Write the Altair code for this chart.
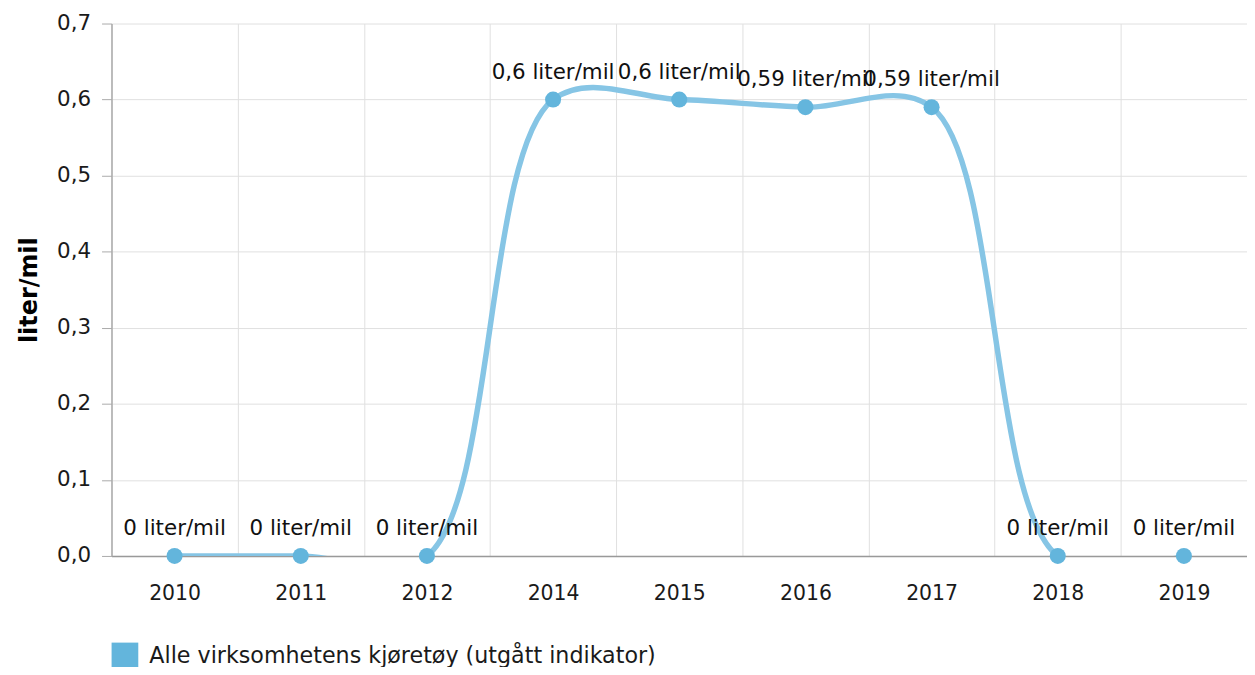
import altair as alt
import pandas as pd

years = ["2010", "2011", "2012", "2014", "2015", "2016", "2017", "2018", "2019"]
values = [0, 0, 0, 0.6, 0.6, 0.59, 0.59, 0, 0]
labels = ["0 liter/mil", "0 liter/mil", "0 liter/mil", "0,6 liter/mil", "0,6 liter/mil",
          "0,59 liter/mil", "0,59 liter/mil", "0 liter/mil", "0 liter/mil"]
series_name = "Alle virksomhetens kjøretøy (utgått indikator)"
y_ticks = [0, 0.1, 0.2, 0.3, 0.4, 0.5, 0.6, 0.7]

df = pd.DataFrame({"year": years, "value": values, "label": labels, "serie": series_name})

FONT = "DejaVu Sans"

x_enc = alt.X("year:N", sort=years, title=None,
              scale=alt.Scale(paddingInner=0, paddingOuter=0),
              axis=alt.Axis(tickBand="extent", ticks=False, labelAngle=0, labelFontSize=20.5,
                            labelColor="#1a1a1a", labelFont=FONT, labelPadding=28,
                            domainColor="#999999", domainWidth=1.5,
                            grid=True, gridColor="#e0e0e0", gridWidth=1))
y_enc = alt.Y("value:Q", title="liter/mil",
              scale=alt.Scale(domain=[0, 0.7], nice=False),
              axis=alt.Axis(values=y_ticks, labelExpr="replace(format(datum.value, '.1f'), '.', ',')",
                            labelFontSize=21.5, labelColor="#1a1a1a", labelFont=FONT, labelPadding=11,
                            tickSize=10, tickColor="#aaaaaa", domainColor="#aaaaaa", domainWidth=1.5,
                            gridColor="#e0e0e0", gridWidth=1,
                            titleFontSize=24, titleFont=FONT, titleFontWeight="bold",
                            titleColor="#000000", titlePadding=15))

base = alt.Chart(df)

line = base.mark_line(interpolate="catmull-rom", strokeWidth=5.5, color="#86c5e5", clip=True).encode(
    x=x_enc, y=y_enc)

points = base.mark_circle(size=260, opacity=1).encode(
    x=alt.X("year:N", sort=years),
    y="value:Q",
    color=alt.Color("serie:N", scale=alt.Scale(range=["#63b5dc"]), title=None,
                    legend=alt.Legend(orient="none", legendX=0, legendY=622,
                                      symbolType="square", symbolSize=720, symbolStrokeWidth=0,
                                      labelFontSize=22.3, labelFont=FONT, labelColor="#1a1a1a",
                                      labelLimit=900, symbolOpacity=1, labelOffset=11)))

text = base.mark_text(dy=-27, fontSize=21.5, font=FONT, color="#111111").encode(
    x=alt.X("year:N", sort=years),
    y="value:Q",
    text="label:N")

chart = alt.layer(line, points, text).properties(
    width=1141, height=535,
    autosize=alt.AutoSizeParams(type="none"),
    padding={"left": 104, "top": 14, "right": 0, "bottom": 110},
).configure_view(stroke=None)

chart.save("out.html", embed_options={"renderer": "svg", "actions": False})
